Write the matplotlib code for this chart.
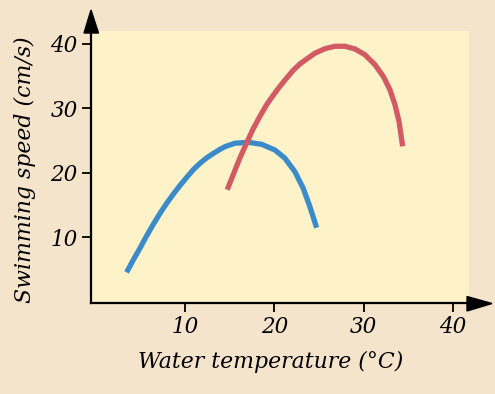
import matplotlib
matplotlib.use("Agg")
import matplotlib.pyplot as plt
from matplotlib.patches import Polygon

# Data
blue_temp = [3.48, 4.22, 4.97, 5.72, 6.45, 7.20, 7.95, 8.69, 9.44, 10.19, 10.93, 11.68, 12.43,
             13.17, 13.84, 14.47, 15.59, 17.08, 18.58, 20.07, 21.19, 22.30, 23.23, 23.98, 24.73]
blue_speed = [4.53, 6.44, 8.26, 10.20, 11.95, 13.65, 15.22, 16.65, 18.00, 19.25, 20.45, 21.45, 22.30,
              22.98, 23.55, 24.04, 24.57, 24.72, 24.41, 23.52, 22.24, 20.16, 17.58, 14.72, 11.46]
red_temp = [14.73, 15.40, 16.15, 16.90, 17.64, 18.39, 19.14, 19.88, 20.63, 21.38, 22.11, 22.86,
            23.42, 24.54, 25.66, 26.78, 27.90, 29.02, 30.13, 31.25, 32.18, 32.93, 33.49, 33.94, 34.35]
red_speed = [17.36, 19.69, 22.28, 24.61, 26.83, 28.76, 30.56, 32.02, 33.42, 34.70, 35.90, 36.88,
             37.45, 38.55, 39.25, 39.63, 39.63, 39.21, 38.32, 36.77, 34.97, 32.89, 30.56, 27.98, 24.10]
x_ticks = [10, 20, 30, 40]
y_ticks = [10, 20, 30, 40]
x_label = "Water temperature (°C)"
y_label = "Swimming speed (cm/s)"

W, H = 495, 394
fig = plt.figure(figsize=(W / 100, H / 100), dpi=100)
fig.patch.set_facecolor("#f5e4cc")

left, right, bottom, top = 91, 469, 303, 31
ax = fig.add_axes([left / W, (H - bottom) / H, (right - left) / W, (bottom - top) / H])
ax.set_facecolor("#fdf2c8")
ax.set_xlim(-0.5, 41.77)
ax.set_ylim(-0.23, 42.0)

ax.plot(blue_temp, blue_speed, color="#3b8bca", lw=3.8, solid_capstyle="butt", solid_joinstyle="round")
ax.plot(red_temp, red_speed, color="#d25a64", lw=3.8, solid_capstyle="butt", solid_joinstyle="round")

for s in ["top", "right"]:
    ax.spines[s].set_visible(False)
for s in ["left", "bottom"]:
    ax.spines[s].set_linewidth(1.6)
    ax.spines[s].set_color("black")

font = dict(family="DejaVu Serif", style="italic")
ax.set_xticks(x_ticks)
ax.set_yticks(y_ticks)
ax.set_xticklabels([str(t) for t in x_ticks], fontsize=15.5, **font)
ax.set_yticklabels([str(t) for t in y_ticks], fontsize=15.5, **font)
ax.tick_params(direction="out", length=6.5, width=1.3, color="black", pad=3)

# arrowheads
def fx(px):
    return px / W
def fy(py):
    return (H - py) / H

ytri = Polygon([[fx(91), fy(10)], [fx(84), fy(33)], [fx(98.5), fy(33)]], closed=True,
               transform=fig.transFigure, color="black", clip_on=False)
xtri = Polygon([[fx(492), fy(303.5)], [fx(467), fy(296.5)], [fx(467), fy(311)]], closed=True,
               transform=fig.transFigure, color="black", clip_on=False)
fig.patches.extend([ytri, xtri])
fig.add_artist(plt.Line2D([fx(91), fx(91)], [fy(31), fy(25)], color="black", lw=1.6, transform=fig.transFigure))
fig.add_artist(plt.Line2D([fx(469), fx(475)], [fy(303.3), fy(303.3)], color="black", lw=1.6, transform=fig.transFigure))

fig.text(fx(271), fy(362), x_label, ha="center", va="center", fontsize=15.8, **font)
fig.text(fx(25), fy(170), y_label, ha="center", va="center", rotation=90, fontsize=15.8, **font)

fig.savefig("out.png", dpi=100, facecolor=fig.get_facecolor())
